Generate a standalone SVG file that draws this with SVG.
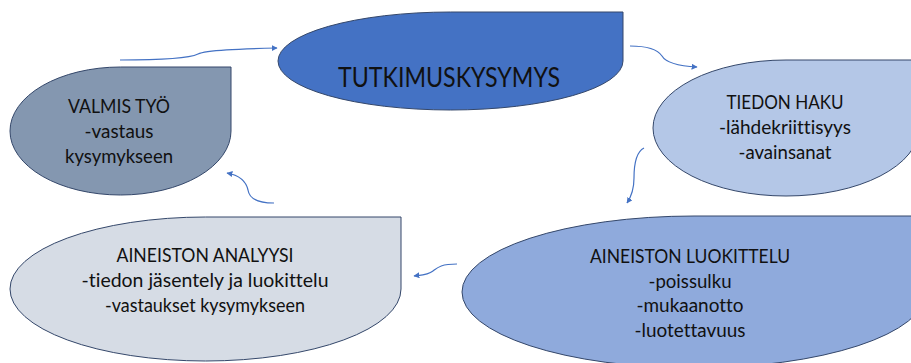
<svg xmlns="http://www.w3.org/2000/svg" width="911" height="363" viewBox="0 0 911 363">
<style>
.shape{stroke:#34476a;stroke-width:1}
.t{font-family:Lato,"Open Sans","Liberation Sans",sans-serif;font-size:18.5px;fill:#111;text-anchor:middle;font-variant-ligatures:none}
.title{font-size:26px}
.c{fill:none;stroke:#4472c4;stroke-width:1.2;marker-end:url(#ah)}
</style>
<defs>
<marker id="ah" viewBox="0 0 10 10" refX="9" refY="5" markerWidth="6" markerHeight="6" markerUnits="userSpaceOnUse" orient="auto">
<path d="M0,0 L10,5 L0,10 Z" fill="#4472c4"/>
</marker>
</defs>
<rect width="911" height="363" fill="#fff"/>
<g id="tutkimuskysymys">
<path class="shape" fill="#4472c4" d="M278,61 A172.5,49 0 0 1 450.5,12 L623,12 L623,61 A172.5,49 0 0 1 450.5,110 A172.5,49 0 0 1 278,61 Z"/>
<text class="t title" x="449" y="87" textLength="222" lengthAdjust="spacingAndGlyphs">TUTKIMUSKYSYMYS</text>
</g>
<g id="valmis-tyo">
<path class="shape" fill="#8497b0" d="M10,131 A110.5,64 0 0 1 120.5,67 L231,67 L231,131 A110.5,64 0 0 1 120.5,195 A110.5,64 0 0 1 10,131 Z"/>
<text class="t" x="119" y="113" textLength="102" lengthAdjust="spacingAndGlyphs">VALMIS TYÖ</text>
<text class="t" x="119" y="138" textLength="69" lengthAdjust="spacingAndGlyphs">-vastaus</text>
<text class="t" x="119" y="163" textLength="108" lengthAdjust="spacingAndGlyphs">kysymykseen</text>
</g>
<g id="tiedon-haku">
<path class="shape" fill="#b4c7e7" d="M653,128 A133,68 0 0 1 786,60 L919,60 L919,128 A133,68 0 0 1 786,196 A133,68 0 0 1 653,128 Z"/>
<text class="t" x="785" y="109" textLength="117" lengthAdjust="spacingAndGlyphs">TIEDON HAKU</text>
<text class="t" x="785" y="134" textLength="132" lengthAdjust="spacingAndGlyphs">-lähdekriittisyys</text>
<text class="t" x="785" y="159" textLength="93" lengthAdjust="spacingAndGlyphs">-avainsanat</text>
</g>
<g id="aineiston-analyysi">
<path class="shape" fill="#d6dce5" d="M10,289 A195.5,72 0 0 1 205.5,217 L401,217 L401,289 A195.5,72 0 0 1 205.5,361 A195.5,72 0 0 1 10,289 Z"/>
<text class="t" x="205" y="262" textLength="177" lengthAdjust="spacingAndGlyphs">AINEISTON ANALYYSI</text>
<text class="t" x="205" y="287" textLength="247" lengthAdjust="spacingAndGlyphs">-tiedon jäsentely ja luokittelu</text>
<text class="t" x="205" y="312" textLength="200" lengthAdjust="spacingAndGlyphs">-vastaukset kysymykseen</text>
</g>
<g id="aineiston-luokittelu">
<path class="shape" fill="#8faadc" d="M462,292 A232,76 0 0 1 694,216 L926,216 L926,292 A232,76 0 0 1 694,368 A232,76 0 0 1 462,292 Z"/>
<text class="t" x="690" y="263" textLength="200" lengthAdjust="spacingAndGlyphs">AINEISTON LUOKITTELU</text>
<text class="t" x="690" y="288" textLength="83" lengthAdjust="spacingAndGlyphs">-poissulku</text>
<text class="t" x="690" y="312" textLength="107" lengthAdjust="spacingAndGlyphs">-mukaanotto</text>
<text class="t" x="690" y="337" textLength="111" lengthAdjust="spacingAndGlyphs">-luotettavuus</text>
</g>
<g id="connectors">
<path class="c" d="M120,60 C160,60 190,58 198,54 C206,50 240,49 277,48"/>
<path class="c" d="M630,46 C650,46 658,50 662,56 C666,63 680,66 697,67"/>
<path class="c" d="M644,148 C636,152 634,165 634,178 C634,190 631,197 627,203"/>
<path class="c" d="M457,264 C440,264 437,268 433,271 C428,275 422,275 414,276"/>
<path class="c" d="M274,203 C255,203 249,197 248,190 C246,181 238,175 227,173"/>
</g>
</svg>
